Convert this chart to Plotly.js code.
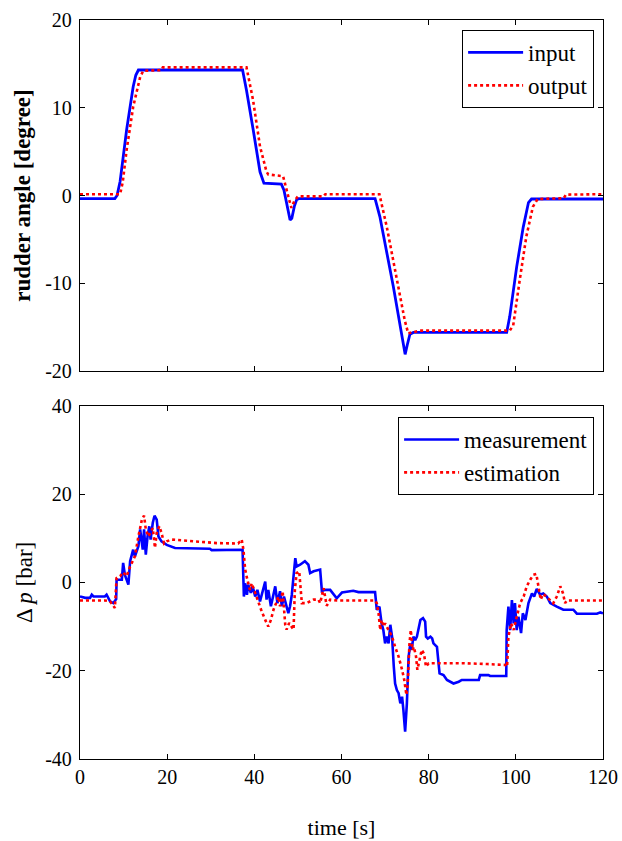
<!DOCTYPE html>
<html>
<head>
<meta charset="utf-8">
<script src="https://cdn.plot.ly/plotly-3.0.1.min.js"></script>
<style>
html,body{margin:0;padding:0;background:#fff;}
#chart{width:622px;height:841px;}
</style>
</head>
<body>
<div id="chart"></div>
<script>
// ---- Top panel: rudder angle [degree] ----
const inputT = [0, 8.0, 8.5, 9.2, 10.7, 12.2, 12.8, 13.4, 37.3, 38.2, 39.7, 41.3, 42.2, 46.2, 46.8, 47.6, 48.2, 48.6, 49.2, 49.7, 50.2, 67.7, 68.8, 71.9, 73.8, 74.6, 75.1, 75.7, 76.5, 97.9, 98.6, 100.2, 101.7, 102.9, 103.6, 120];
const inputV = [-0.35, -0.35, 0.0, 1.6, 7.5, 12.4, 13.7, 14.3, 14.3, 12.0, 7.6, 2.7, 1.4, 1.3, 0.6, -1.5, -2.8, -2.6, -1.2, -0.5, -0.35, -0.35, -2.4, -10.4, -15.7, -18.1, -17.0, -15.8, -15.6, -15.6, -13.8, -8.1, -3.6, -0.8, -0.4, -0.4];

const outputT = [0, 9.2, 9.8, 10.7, 12.2, 13.8, 14.5, 18.7, 19.0, 38.2, 39.7, 41.3, 42.8, 43.2, 46.6, 47.3, 48.0, 48.5, 49.2, 50.0, 55.8, 56.3, 68.7, 70.4, 72.6, 74.5, 75.3, 76.5, 78.0, 98.6, 99.4, 100.9, 102.4, 103.9, 105.0, 111.0, 111.5, 120];
const outputV = [0.15, 0.15, 1.5, 5.2, 10.1, 13.5, 14.2, 14.3, 14.6, 14.6, 10.9, 5.6, 2.7, 2.4, 2.2, 1.0, -0.5, -1.4, -0.6, -0.1, -0.1, 0.15, 0.15, -3.6, -9.3, -14.2, -15.7, -15.6, -15.4, -15.4, -14.8, -9.6, -4.7, -1.3, -0.4, -0.3, 0.1, 0.15];

// ---- Bottom panel: delta p [bar] ----
const measT = [0, 1.2, 2.3, 2.7, 3.1, 5.7, 6.1, 6.9, 7.65, 8.3, 8.4, 9.6, 9.9, 10.3, 11.1, 11.5, 12.2, 12.6, 13.4, 13.8, 14.4, 14.7, 15.1, 15.5, 15.9, 16.2, 16.7, 17.1, 17.6, 18.0, 18.7, 19.9, 21.8, 29.8, 30.2, 37.3, 37.6, 37.9, 38.3, 38.6, 39.2, 39.6, 40.2, 40.7, 41.3, 41.9, 42.5, 42.8, 43.2, 43.8, 44.4, 44.8, 45.3, 45.9, 46.3, 46.8, 47.3, 47.8, 48.2, 48.6, 49.0, 49.4, 49.7, 50.5, 51.6, 52.4, 52.8, 53.6, 55.1, 55.5, 56.2, 57.4, 58.9, 60.1, 62.7, 63.9, 67.7, 68.1, 68.7, 69.2, 69.6, 70.0, 70.4, 70.8, 71.2, 71.6, 72.0, 72.3, 72.7, 73.1, 73.5, 73.9, 74.2, 74.6, 75.0, 75.4, 75.8, 76.1, 76.5, 76.9, 77.3, 77.7, 78.1, 78.7, 79.2, 79.4, 79.8, 80.4, 80.8, 81.1, 81.9, 82.5, 83.4, 84.2, 85.7, 86.9, 87.6, 91.5, 91.8, 93.7, 94.1, 97.8, 97.9, 98.3, 98.7, 99.1, 99.5, 99.8, 100.2, 100.6, 101.2, 101.6, 102.2, 102.9, 103.7, 104.2, 104.8, 105.6, 106.3, 107.1, 107.9, 109.4, 110.9, 113.2, 114.0, 118.6, 119.4, 120];
const measV = [-3.2, -3.5, -3.5, -2.8, -3.2, -3.2, -2.8, -4.3, -4.7, -3.8, 0.6, 0.6, 4.4, 1.7, -0.5, 4.8, 7.4, 5.9, 8.2, 12.0, 7.4, 12.0, 6.3, 10.4, 12.7, 9.7, 13.5, 15.1, 14.2, 10.4, 9.3, 8.5, 7.8, 7.6, 7.3, 7.4, -3.2, -0.2, -2.8, -0.5, -2.4, -0.9, -3.2, -1.7, -4.3, -1.7, 0.2, -3.9, -1.7, -5.4, -2.8, -0.9, -4.7, -2.0, -5.4, -3.2, -5.1, -7.0, -5.4, -2.8, 1.4, 5.5, 3.6, 4.0, 4.8, 4.0, 2.1, 2.5, 2.9, -2.0, -1.7, -1.7, -3.6, -2.3, -1.9, -2.2, -2.2, -6.2, -5.5, -9.3, -10.8, -13.8, -12.3, -13.8, -9.6, -12.3, -19.1, -22.9, -24.4, -25.1, -27.4, -25.9, -28.9, -33.8, -27.4, -16.8, -13.8, -15.3, -12.3, -13.1, -12.3, -10.4, -8.5, -8.1, -8.9, -12.3, -12.7, -12.3, -12.7, -13.8, -14.6, -20.6, -21.0, -22.1, -22.9, -22.5, -22.1, -22.1, -21.0, -21.0, -21.2, -21.2, -10.8, -5.5, -10.8, -4.0, -9.3, -4.7, -10.8, -7.8, -11.5, -7.0, -8.5, -4.7, -2.5, -3.2, -1.5, -2.8, -2.5, -3.2, -4.7, -5.5, -6.2, -6.2, -7.1, -7.1, -6.8, -7.0];

const estT = [0, 5.7, 6.9, 8.0, 8.4, 9.2, 9.9, 10.7, 11.5, 12.1, 12.6, 13.4, 14.2, 14.7, 15.1, 15.7, 16.2, 16.7, 17.2, 17.6, 18.2, 18.7, 19.3, 19.9, 21.0, 26.0, 31.4, 36.3, 37.1, 37.5, 37.9, 38.4, 39.0, 39.4, 40.2, 40.9, 41.7, 42.5, 43.2, 43.8, 44.4, 45.0, 45.5, 45.9, 46.5, 47.1, 47.4, 48.0, 48.6, 49.0, 49.3, 49.7, 50.3, 50.9, 52.0, 53.6, 54.7, 55.1, 55.9, 56.6, 57.4, 58.9, 67.7, 68.1, 68.5, 68.9, 69.2, 69.6, 70.0, 70.8, 71.6, 72.3, 73.1, 73.9, 74.4, 74.9, 75.2, 75.6, 75.9, 76.3, 76.6, 77.1, 77.4, 77.9, 78.4, 78.9, 79.4, 80.0, 82.7, 88.0, 93.4, 97.6, 98.0, 98.3, 98.9, 99.5, 100.2, 101.0, 101.8, 102.5, 103.3, 104.0, 104.7, 105.2, 105.7, 106.3, 107.5, 108.6, 109.4, 110.2, 110.8, 111.3, 111.7, 120];
const estV = [-4.1, -4.1, -4.3, -5.8, 1.0, 1.4, 2.3, 1.4, 3.6, 5.1, 5.9, 10.4, 14.2, 15.1, 12.0, 10.4, 11.2, 12.3, 7.8, 11.2, 12.7, 11.2, 8.8, 9.3, 9.7, 9.3, 8.9, 8.8, 9.7, 7.4, 2.9, 0.6, -1.7, -0.2, -2.4, -4.7, -6.6, -8.5, -10.0, -8.5, -6.2, -4.7, -3.2, -5.4, -2.0, -9.7, -10.7, -9.2, -10.0, -10.7, -1.7, 2.1, 2.5, -4.7, -4.7, -3.9, -3.9, -4.7, -1.3, -5.3, -3.9, -4.1, -4.1, -4.7, -7.0, -10.8, -8.5, -10.0, -9.3, -10.8, -12.3, -14.6, -16.8, -19.8, -22.1, -25.5, -22.9, -13.8, -10.8, -15.3, -14.6, -16.8, -19.8, -17.6, -15.3, -16.1, -19.1, -18.3, -18.3, -18.3, -18.5, -18.7, -19.1, -12.3, -9.3, -10.8, -7.8, -4.7, -3.2, -0.9, 0.6, 1.7, 1.9, -0.9, -3.9, -2.6, -3.6, -4.7, -3.2, -0.9, -2.4, -4.7, -4.1, -4.1];

const xTicks = [0, 20, 40, 60, 80, 100, 120];
const xTickLabels = ['0', '20', '40', '60', '80', '100', '120'];
const yTicksTop = [-20, -10, 0, 10, 20];
const yTickLabelsTop = ['-20', '-10', '0', '10', '20'];
const yTicksBottom = [-40, -20, 0, 20, 40];
const yTickLabelsBottom = ['-40', '-20', '0', '20', '40'];

const FONT = '"Liberation Serif", "Times New Roman", serif';
const BLUE = '#0000ff';
const RED = '#ff0000';

const traces = [
  {x: inputT, y: inputV, type: 'scatter', mode: 'lines', name: 'input', xaxis: 'x', yaxis: 'y', legend: 'legend',
   line: {color: BLUE, width: 2.8}},
  {x: outputT, y: outputV, type: 'scatter', mode: 'lines', name: 'output', xaxis: 'x', yaxis: 'y', legend: 'legend',
   line: {color: RED, width: 2.6, dash: 'dot'}},
  {x: measT, y: measV, type: 'scatter', mode: 'lines', name: 'measurement', xaxis: 'x2', yaxis: 'y2', legend: 'legend2',
   line: {color: BLUE, width: 2.6}},
  {x: estT, y: estV, type: 'scatter', mode: 'lines', name: 'estimation', xaxis: 'x2', yaxis: 'y2', legend: 'legend2',
   line: {color: RED, width: 2.6, dash: 'dot'}}
];

const axBase = {
  showline: true, linecolor: '#000', linewidth: 1.2, mirror: 'ticks',
  ticks: 'inside', ticklen: 5, tickwidth: 1, tickcolor: '#000',
  showgrid: false, zeroline: false, fixedrange: true,
  tickfont: {family: FONT, size: 20, color: '#000'}
};

const layout = {
  width: 622, height: 841,
  margin: {l: 80, r: 19, t: 20, b: 82},
  paper_bgcolor: '#fff', plot_bgcolor: '#fff',
  font: {family: FONT, color: '#000'},
  xaxis: Object.assign({}, axBase, {domain: [0, 1], anchor: 'y', range: [0, 120], tickvals: xTicks, ticktext: xTickLabels, showticklabels: false}),
  yaxis: Object.assign({}, axBase, {domain: [0.525, 1], anchor: 'x', range: [-20, 20], tickvals: yTicksTop, ticktext: yTickLabelsTop,
    ticklabelstandoff: 3,
    title: {text: 'rudder angle [degree]', font: {family: FONT, size: 23, weight: 'bold', color: '#000'}, standoff: 8}}),
  xaxis2: Object.assign({}, axBase, {domain: [0, 1], anchor: 'y2', range: [0, 120], tickvals: xTicks, ticktext: xTickLabels,
    title: {text: 'time [s]', font: {family: FONT, size: 22, color: '#000'}, standoff: 32}}),
  yaxis2: Object.assign({}, axBase, {domain: [0, 0.478], anchor: 'x2', range: [-40, 40], tickvals: yTicksBottom, ticktext: yTickLabelsBottom,
    ticklabelstandoff: 3,
    title: {text: 'Δ <i>p</i> [bar]', font: {family: FONT, size: 23, color: '#000'}, standoff: 6}}),
  legend: {x: 0.983, xanchor: 'right', y: 0.9865, yanchor: 'top', bgcolor: '#fff', bordercolor: '#000', borderwidth: 1,
    font: {family: FONT, size: 23, color: '#000'}, tracegroupgap: 0, itemwidth: 55},
  legend2: {x: 0.983, xanchor: 'right', y: 0.4628, yanchor: 'top', bgcolor: '#fff', bordercolor: '#000', borderwidth: 1,
    font: {family: FONT, size: 23, color: '#000'}, tracegroupgap: 0, itemwidth: 55},
  showlegend: true
};

Plotly.newPlot('chart', traces, layout, {displayModeBar: false, staticPlot: true});
</script>
</body>
</html>
